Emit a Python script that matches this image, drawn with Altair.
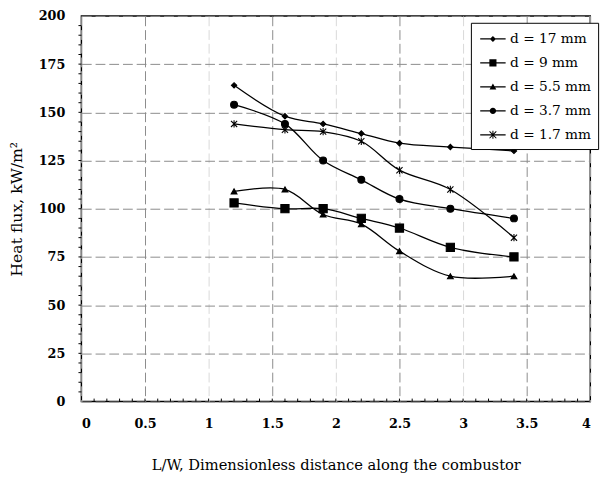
import altair as alt
import pandas as pd

x_vals = [1.2, 1.6, 1.9, 2.2, 2.5, 2.9, 3.4]
series_names = ["d = 17 mm", "d = 9 mm", "d = 5.5 mm", "d = 3.7 mm", "d = 1.7 mm"]
d17 = [164, 148, 144, 139, 134, 132, 130]
d9 = [103, 100, 100, 95, 90, 80, 75]
d5_5 = [109, 110, 97, 92, 78, 65, 65]
d3_7 = [154, 144, 125, 115, 105, 100, 95]
d1_7 = [144, 141, 140, 135, 120, 110, 85]
x_ticks = [0, 0.5, 1, 1.5, 2, 2.5, 3, 3.5, 4]
y_ticks = [0, 25, 50, 75, 100, 125, 150, 175, 200]

rows = []
for name, vals in zip(series_names, [d17, d9, d5_5, d3_7, d1_7]):
    for xv, yv in zip(x_vals, vals):
        rows.append({"x": xv, "y": yv, "series": name})
df = pd.DataFrame(rows)

W, H = 520, 394
FONT = "DejaVu Serif"

marker_shapes = [
    "diamond",
    "square",
    "triangle-up",
    "circle",
    "M-1,-1L1,1M-1,1L1,-1M0,-1.2L0,1.2",
]
LINE = "M-1.5,-0.07H1.5V0.07H-1.5Z"
legend_shapes = [
    LINE + "M0,-0.36L0.36,0L0,0.36L-0.36,0Z",
    LINE + "M-0.42,-0.42H0.42V0.42H-0.42Z",
    LINE + "M0,-0.4L0.4,0.3L-0.4,0.3Z",
    LINE + "M0.38,0A0.38,0.38,0,1,1,-0.38,0A0.38,0.38,0,1,1,0.38,0Z",
    LINE + "M-0.358,-0.442L0.442,0.358L0.358,0.442L-0.442,-0.358Z"
    "M-0.442,0.358L0.358,-0.442L0.442,-0.358L-0.358,0.442Z"
    "M-0.06,-0.47H0.06V0.47H-0.06Z",
]
marker_sizes = [30, 70, 35, 50, 40]

xs = alt.Scale(domain=[0, 4], nice=False)
ys = alt.Scale(domain=[0, 200], nice=False)

grid_color = {
    "condition": {"test": "datum.value % 1 == 0.5", "value": "#8a8a8a"},
    "value": "#d8d8d8",
}

x_axis = alt.Axis(
    values=x_ticks, format="~g", grid=True, gridColor=grid_color, gridDash=[10, 4],
    domain=False, ticks=False, labelFont=FONT, labelFontSize=13, labelFontWeight="bold",
    labelPadding=17, title="L/W, Dimensionless distance along the combustor",
    titleFont=FONT, titleFontSize=15, titleFontWeight="normal", titlePadding=27,
    labelColor="black", titleColor="black",
)
y_axis = alt.Axis(
    values=y_ticks, grid=True, gridColor="#8a8a8a", gridDash=[10, 4],
    domain=False, ticks=False, labelFont=FONT, labelFontSize=13, labelFontWeight="bold",
    labelPadding=17, title="Heat flux, kW/m²",
    titleFont=FONT, titleFontSize=16, titleFontWeight="normal", titlePadding=14,
    labelColor="black", titleColor="black",
)

base = alt.Chart(df)

lines = base.mark_line(color="black", strokeWidth=1.3, interpolate="catmull-rom").encode(
    x=alt.X("x:Q", scale=xs, axis=x_axis),
    y=alt.Y("y:Q", scale=ys, axis=y_axis),
    detail="series:N",
)

marker_layers = []
for name, shp, sz in zip(series_names, marker_shapes, marker_sizes):
    marker_layers.append(
        base.transform_filter(alt.datum.series == name)
        .mark_point(filled=True, fill="black", stroke="black", strokeWidth=1.1,
                    opacity=1, shape=shp, size=sz)
        .encode(x=alt.X("x:Q", scale=xs), y=alt.Y("y:Q", scale=ys))
    )

legend_layer = base.mark_point(
    filled=True, fill="black", stroke="black", strokeWidth=1.2, opacity=0
).encode(
    x=alt.X("x:Q", scale=xs),
    y=alt.Y("y:Q", scale=ys),
    shape=alt.Shape(
        "series:N",
        scale=alt.Scale(domain=series_names, range=legend_shapes),
        legend=alt.Legend(
            title=None, orient="none", legendX=398, legendY=7,
            symbolSize=300, symbolOpacity=1,
            symbolFillColor="black", symbolStrokeColor="black", symbolStrokeWidth=1.2,
            labelFont=FONT, labelFontSize=14, labelColor="black", labelOffset=8,
            rowPadding=7.5, padding=7, strokeColor="black", fillColor="white",
            symbolOffset=6, labelLimit=200,
        ),
    ),
)

x_minor = [round(i * 0.1, 1) for i in range(1, 40)]
y_minor = [i * 5 for i in range(1, 40)]

xminor_chart = alt.Chart(pd.DataFrame({"x": x_minor})).mark_rule(color="black", strokeWidth=1).encode(
    x=alt.X("x:Q", scale=xs), y=alt.value(H), y2=alt.value(H - 3)
)
yminor_chart = alt.Chart(pd.DataFrame({"y": y_minor})).mark_rule(color="black", strokeWidth=1).encode(
    y=alt.Y("y:Q", scale=ys), x=alt.value(0), x2=alt.value(-3)
)

chart = alt.layer(lines, *marker_layers, legend_layer, xminor_chart, yminor_chart).properties(
    width=W, height=H, padding={"left": 0, "top": -3, "right": 5, "bottom": 0},
    background="white",
).configure_view(
    stroke="black", strokeWidth=1.5
)

chart.save("out.html", embed_options={"renderer": "svg", "actions": False})
